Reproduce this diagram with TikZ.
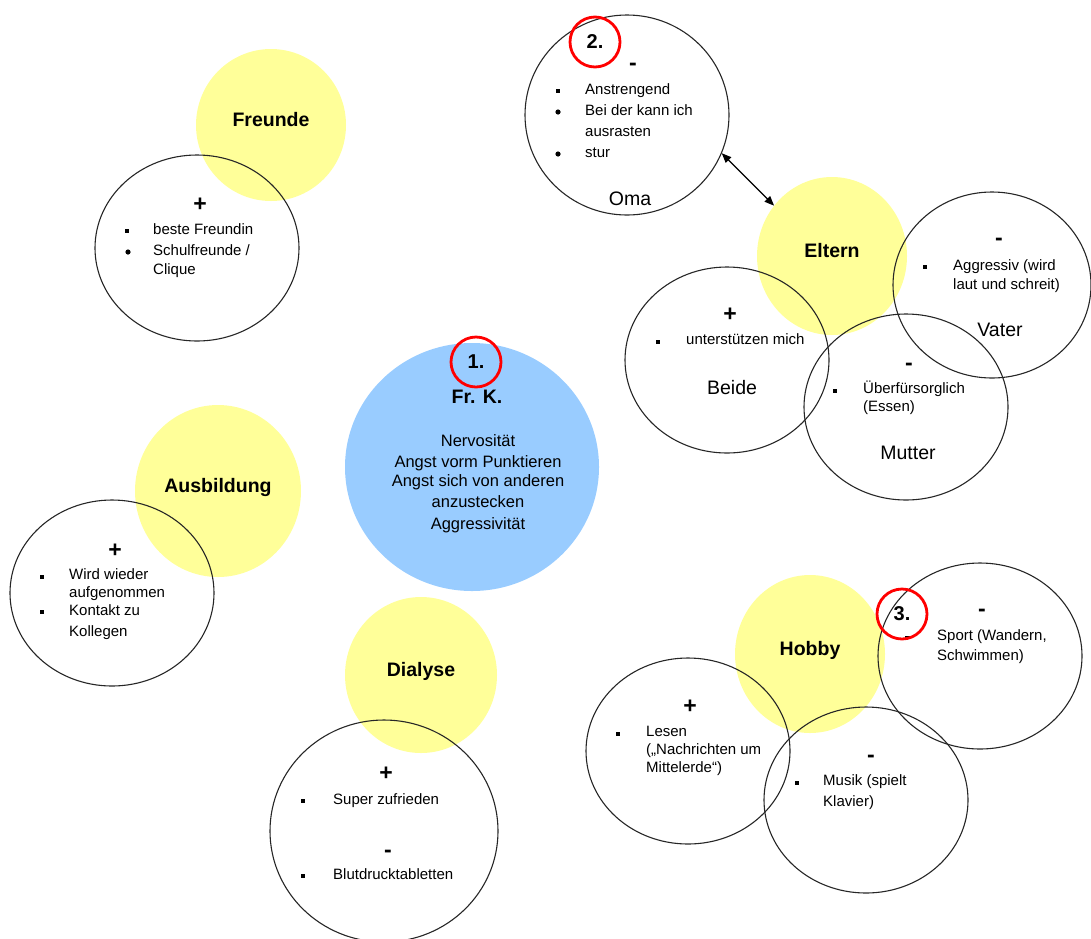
\documentclass[tikz,border=0pt]{standalone}
\usepackage{fontspec}
\setmainfont{Liberation Sans}
\usetikzlibrary{arrows}
\usetikzlibrary{shapes.geometric}
\definecolor{gelb}{RGB}{255,255,153}
\definecolor{hellblau}{RGB}{153,204,255}
\tikzset{
  thema/.style={ellipse,fill=gelb,inner sep=0pt,text height=14pt,text depth=12pt,font=\bfseries\fontsize{19.5}{22}\selectfont},
  blase/.style={ellipse,draw=black!85,line width=1.1pt,inner sep=0pt,minimum width=204pt,minimum height=186pt},
  eintrag/.style={anchor=west,inner sep=0pt,text height=1.5ex,text depth=.25ex,font=\fontsize{15}{17}\selectfont},
  wer/.style={inner sep=0pt,font=\fontsize{19.5}{22}\selectfont},
  zeichen/.style={inner sep=0pt,font=\bfseries\fontsize{23}{25}\selectfont},
  nummer/.style={circle,draw=red,line width=2.8pt,minimum size=50pt,inner sep=0pt,font=\bfseries\fontsize{20}{22}\selectfont}
}

\begin{document}
\begin{tikzpicture}[x=1pt,y=-1pt,line cap=round,line join=round,>=triangle 45]
\useasboundingbox (0,0) rectangle (1091,938);
% gelbe Themen
\node[thema,minimum width=150,minimum height=152] (freunde) at (271,125) {Freunde};
\node[thema,minimum width=150,minimum height=158] (eltern) at (832,256) {Eltern};
\node[thema,minimum width=166,minimum height=172] (ausbildung) at (218,491) {Ausbildung};
\node[thema,minimum width=152,minimum height=156] (dialyse) at (421,675) {Dialyse};
\node[thema,minimum width=150,minimum height=158] (hobby) at (810,654) {Hobby};
% Patientin
\node[ellipse,fill=hellblau,inner sep=0pt,minimum width=254,minimum height=248] (frk) at (472,467) {};
\node[inner sep=0pt,font=\bfseries\fontsize{19.5}{22}\selectfont] (frkname) at (477,397) {Fr. K.};
\foreach \t/\y [count=\i] in {Nervosit\"at/443,Angst vorm Punktieren/464,Angst sich von anderen/483,anzustecken/504,Aggressivit\"at/526}
  \node[eintrag,anchor=center,font=\fontsize{16.5}{18}\selectfont] (frk-\i) at (478,\y) {\t};
% Blasen
\node[blase] (freundeplus) at (197,248) {};
\node[blase,minimum height=200] (oma) at (627,115) {};
\node[blase] (beide) at (727,360) {};
\node[blase,minimum width=198] (vater) at (992,285) {};
\node[blase] (mutter) at (906,407) {};
\node[blase] (ausbildungplus) at (112,593) {};
\node[blase,minimum width=228,minimum height=222] (dialyseplus) at (384,831) {};
\node[blase] (lesen) at (688,751) {};
\node[blase] (sport) at (980,656) {};
\node[blase] (musik) at (866,800) {};
\draw[<->,line width=1.2pt] (oma.-22) -- (eltern.139);
% Plus und Minus
\foreach \s/\x/\y [count=\i] in {+/200/205,-/633/67,+/730/315,-/999/242,-/909/367,+/115/551,+/386/774,-/388/854,+/690/707,-/982/613,-/871/759}
  \node[zeichen] (z-\i) at (\x,\y) {\s};
% Aufzaehlungszeichen
\foreach \x/\y in {127/231,558/91,658/342,925/267,835/391,42/577,42/612,303/801,303/876,618/734,797/783}
  \fill (\x-2,\y-2) rectangle (\x+2,\y+2);
\foreach \x/\y in {128/252,558/112,558/154}
  \fill (\x,\y) circle (2.6);
\fill (905,636) rectangle (911,638);
% Eintraege
\foreach \t/\y [count=\i] in {beste Freundin/231,{Schulfreunde /}/252,Clique/271}
  \node[eintrag] (fr-\i) at (153,\y) {\t};
\foreach \t/\y [count=\i] in {Anstrengend/91,Bei der kann ich/112,ausrasten/133,stur/154}
  \node[eintrag] (om-\i) at (585,\y) {\t};
\node[eintrag] (be-1) at (686,341) {unterst\"utzen mich};
\foreach \t/\y [count=\i] in {{Aggressiv (wird}/267,{laut und schreit)}/286}
  \node[eintrag] (va-\i) at (953,\y) {\t};
\foreach \t/\y [count=\i] in {{\"Uberf\"ursorglich}/390,{(Essen)}/408}
  \node[eintrag] (mu-\i) at (863,\y) {\t};
\foreach \t/\y [count=\i] in {Wird wieder/576,aufgenommen/594,Kontakt zu/612,Kollegen/633}
  \node[eintrag] (au-\i) at (69,\y) {\t};
\node[eintrag] (di-1) at (333,801) {Super zufrieden};
\node[eintrag] (di-2) at (333,876) {Blutdrucktabletten};
\foreach \t/\y [count=\i] in {{Lesen}/733,{(„Nachrichten um}/751,{Mittelerde“)}/769}
  \node[eintrag] (le-\i) at (646,\y) {\t};
\foreach \t/\y [count=\i] in {{Sport (Wandern,}/637,{Schwimmen)}/657}
  \node[eintrag] (sp-\i) at (937,\y) {\t};
\foreach \t/\y [count=\i] in {{Musik (spielt}/782,{Klavier)}/803}
  \node[eintrag] (mk-\i) at (823,\y) {\t};
% Personen
\node[wer] (omaname) at (630,199) {Oma};
\node[wer] (beidename) at (732,388) {Beide};
\node[wer] (vatername) at (1000,330) {Vater};
\node[wer] (muttername) at (908,453) {Mutter};
% rote Markierungen
\node[nummer] (nr1) at (476,362) {1.};
\node[nummer] (nr2) at (595,42) {2.};
\node[nummer] (nr3) at (902,614) {3.};
\end{tikzpicture}
\end{document}
